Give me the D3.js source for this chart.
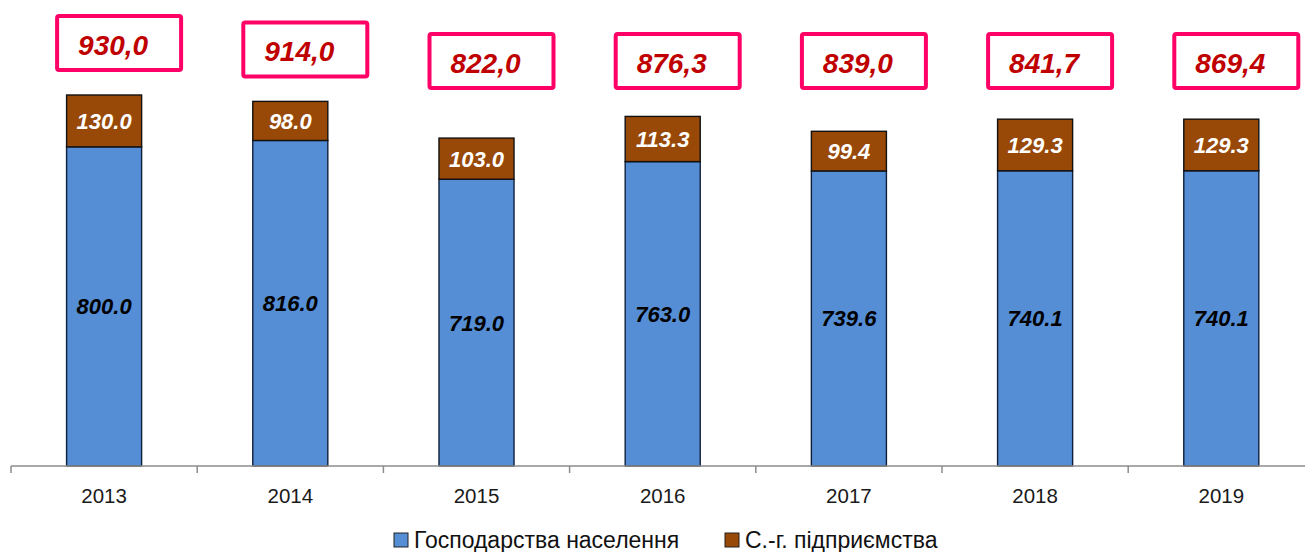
<!DOCTYPE html>
<html>
<head>
<meta charset="utf-8">
<script src="https://cdn.jsdelivr.net/npm/d3@7"></script>
<style>
  html, body { margin: 0; padding: 0; background: #fff; }
  svg { display: block; font-family: "Liberation Sans", Arial, sans-serif; }
</style>
</head>
<body>
<svg id="chart" width="1305" height="552"></svg>
<script>
// Years on the category axis
const years = ["2013", "2014", "2015", "2016", "2017", "2018", "2019"];
// Household production (lower segment)
const households = [800.0, 816.0, 719.0, 763.0, 739.6, 740.1, 740.1];
// Agricultural enterprises (upper segment)
const enterprises = [130.0, 98.0, 103.0, 113.3, 99.4, 129.3, 129.3];
// Totals shown in the framed labels above each column
const totalLabels = ["930,0", "914,0", "822,0", "876,3", "839,0", "841,7", "869,4"];
// Series names for the legend
const seriesNames = ["Господарства населення", "С.-г. підприємства"];

const colors = { households: "#558ED5", enterprises: "#984807" };

const svg = d3.select("#chart");
const band = 186.2;
const x0 = 11;
const baseY = 466;

const x = d3.scaleBand()
  .domain(years)
  .range([x0, x0 + band * years.length])
  .paddingInner(0.597)
  .paddingOuter(0.2985);

const y = d3.scaleLinear()
  .domain([0, 930])
  .range([baseY, 95]);

const rows = years.map((yr, i) => ({
  year: yr,
  households: households[i],
  enterprises: enterprises[i],
  label: totalLabels[i]
}));

const stack = d3.stack().keys(["households", "enterprises"]);
const layers = stack(rows);

// Stacked columns
const g = svg.append("g");
layers.forEach(layer => {
  g.selectAll(null)
    .data(layer)
    .enter()
    .append("rect")
    .attr("x", d => x(d.data.year))
    .attr("width", x.bandwidth())
    .attr("y", d => y(d[1]))
    .attr("height", d => y(d[0]) - y(d[1]))
    .attr("fill", colors[layer.key])
    .attr("stroke", layer.key === "households" ? "#0F1F3A" : "#111")
    .attr("stroke-width", 1.4);
});

// Segment value labels
layers.forEach(layer => {
  g.selectAll(null)
    .data(layer)
    .enter()
    .append("text")
    .attr("x", d => x(d.data.year) + x.bandwidth() / 2)
    .attr("y", d => (y(d[0]) + y(d[1])) / 2)
    .attr("dy", "0.36em")
    .attr("text-anchor", "middle")
    .attr("font-size", 22)
    .attr("font-weight", "bold")
    .attr("font-style", "italic")
    .attr("fill", layer.key === "households" ? "#000" : "#fff")
    .text(d => (d[1] - d[0]).toFixed(1));
});

// Category axis
const axis = d3.axisBottom(x)
  .tickSize(0)
  .tickPadding(0);
const ax = svg.append("g")
  .attr("transform", `translate(0,${baseY})`)
  .call(axis);
ax.select(".domain").remove();
ax.selectAll("text")
  .attr("y", 37)
  .attr("dy", null)
  .attr("font-size", 20.5)
  .attr("fill", "#1a1a1a")
  .attr("font-family", "'Liberation Sans', Arial, sans-serif");
ax.append("line")
  .attr("x1", x0).attr("x2", 1305)
  .attr("y1", 0).attr("y2", 0)
  .attr("stroke", "#8c8c8c").attr("stroke-width", 1.5);
d3.range(years.length + 1).forEach(i => {
  ax.append("line")
    .attr("x1", x0 + i * band).attr("x2", x0 + i * band)
    .attr("y1", 0).attr("y2", 7)
    .attr("stroke", "#8c8c8c").attr("stroke-width", 1.5);
});

// Framed total labels
const boxW = 124, boxH = 54;
const boxes = svg.append("g").selectAll("g")
  .data(rows)
  .enter()
  .append("g")
  .attr("transform", d => {
    const cx = x(d.year) + x.bandwidth() / 2 + 15;
    const top = Math.min(y(d.households + d.enterprises) - 79, 34);
    return `translate(${cx - boxW / 2},${top})`;
  });
boxes.append("rect")
  .attr("width", boxW)
  .attr("height", boxH)
  .attr("rx", 2)
  .attr("fill", "#fff")
  .attr("stroke", "#FF0066")
  .attr("stroke-width", 4);
boxes.append("text")
  .attr("x", boxW / 2 - 6)
  .attr("y", boxH / 2 + 2)
  .attr("dy", "0.36em")
  .attr("text-anchor", "middle")
  .attr("font-size", 28)
  .attr("font-weight", "bold")
  .attr("font-style", "italic")
  .attr("fill", "#C00000")
  .text(d => d.label);

// Legend
const legend = svg.append("g").attr("transform", "translate(394,548)");
const legendX = [0, 331];
seriesNames.forEach((name, i) => {
  const item = legend.append("g").attr("transform", `translate(${legendX[i]},0)`);
  item.append("rect")
    .attr("x", 0).attr("y", -15)
    .attr("width", 14).attr("height", 14)
    .attr("fill", i === 0 ? colors.households : colors.enterprises)
    .attr("stroke", "#222").attr("stroke-width", 1);
  item.append("text")
    .attr("x", 20).attr("y", 0)
    .attr("font-size", 23)
    .attr("fill", "#111")
    .text(name);
});
</script>
</body>
</html>
